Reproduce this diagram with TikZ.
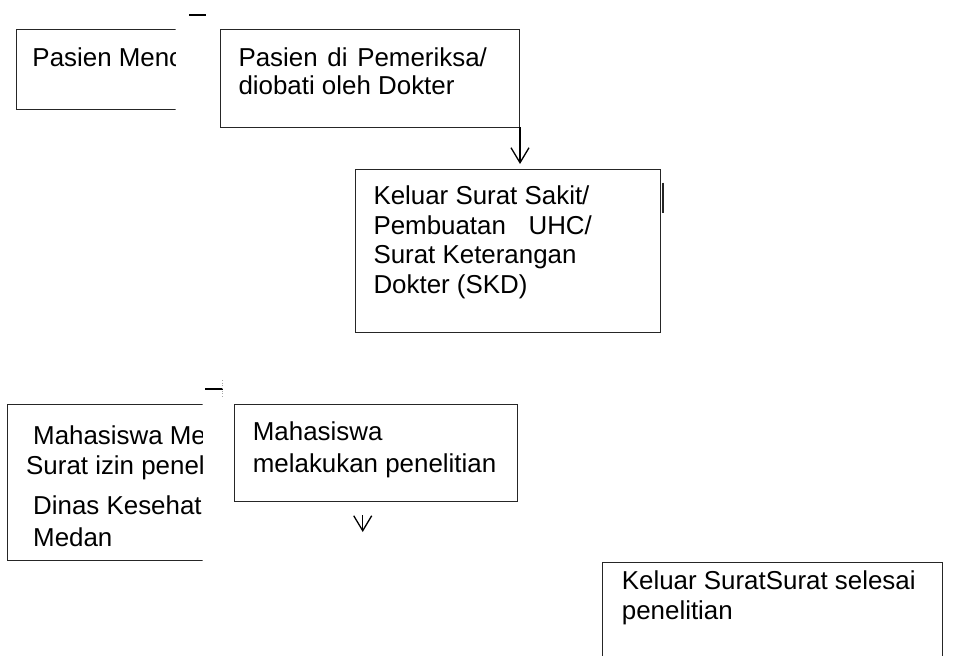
\documentclass[tikz,border=0pt]{standalone}
\usepackage{fontspec}
\setmainfont{Liberation Sans}
\usetikzlibrary{arrows.meta}
\begin{document}
\begin{tikzpicture}[x=1bp,y=-1bp,
  boxline/.style={draw=black!85, line width=1.1bp, rectangle, inner sep=0pt, anchor=north west},
  txt/.style={anchor=base west, inner sep=0pt, font=\fontsize{26}{29}\selectfont},
  flowarrow/.style={draw=black, line width=1.3bp, -{Straight Barb[length=15bp,width=18bp,line width=1.3bp]}},
  dashmark/.style={draw=black, line width=1.8bp}]
\useasboundingbox (0,0) rectangle (957,656);
\fill[white] (0,0) rectangle (957,656);
\clip (0,0) rectangle (957,656);

% Box 1 (cut at its right side)
\begin{scope}
\clip (0,0) rectangle (175.6,200);
\node[boxline, minimum width=220bp, minimum height=80bp] (b1) at (15.7,29.3) {};
\node[txt] (t1) at (32.3,66.5) {Pasien Menc};
\end{scope}
\draw[dashmark] (189,15.3) -- (206,15.3);

% Box 2
\node[boxline, minimum width=298.6bp, minimum height=98bp] (b2) at (220,29.3) {};
\node[txt] (t2a) at (238.3,66.5) {\makebox[248.4bp][s]{Pasien di Pemeriksa/}};
\node[txt] (t2b) at (238.3,95) {diobati oleh Dokter};

% Box 3
\node[boxline, minimum width=305bp, minimum height=163bp] (b3) at (355,169) {};
\node[txt] (t3a) at (373.3,204.5) {Keluar Surat Sakit/};
\node[txt] (t3b) at (373.3,234) {\makebox[218.4bp][s]{Pembuatan UHC/}};
\node[txt] (t3c) at (373.3,263.5) {Surat Keterangan};
\node[txt] (t3d) at (373.3,293) {Dokter (SKD)};
\draw[black!85, line width=1.6bp] (663,182.7) -- (663,212.7);

\coordinate (a1s) at (520,127.3);
\coordinate (a1e) at (520,164);
\draw[flowarrow] (a1s) -- (a1e);

% Box 4 (cut at its right side)
\begin{scope}
\clip (0,380) rectangle (202.7,600);
\node[boxline, minimum width=240bp, minimum height=156.3bp] (b4) at (7,403.7) {};
\node[txt] (t4a) at (33,444) {Mahasiswa Me};
\node[txt] (t4b) at (26,474) {Surat izin penel};
\node[txt] (t4c) at (33,514) {Dinas Kesehat};
\node[txt] (t4d) at (33,546) {Medan};
\end{scope}
\draw[dashmark] (205,389) -- (222.7,389);
\draw[black!35, line width=0.7bp, dotted] (222.7,380) -- (222.7,398);

% Box 5
\node[boxline, minimum width=282.7bp, minimum height=96.7bp] (b5) at (234,404) {};
\node[txt] (t5a) at (252.7,440.5) {Mahasiswa};
\node[txt] (t5b) at (252.7,472) {melakukan penelitian};
\coordinate (a2s) at (362.7,515);
\coordinate (a2e) at (362.7,532);
\draw[flowarrow] (a2s) -- (a2e);

% Box 6 (runs past the bottom edge)
\node[boxline, minimum width=340.6bp, minimum height=120bp] (b6) at (601.7,561.7) {};
\node[txt] (t6a) at (621.7,589) {Keluar SuratSurat selesai};
\node[txt] (t6b) at (621.7,619) {penelitian};
\end{tikzpicture}
\end{document}
